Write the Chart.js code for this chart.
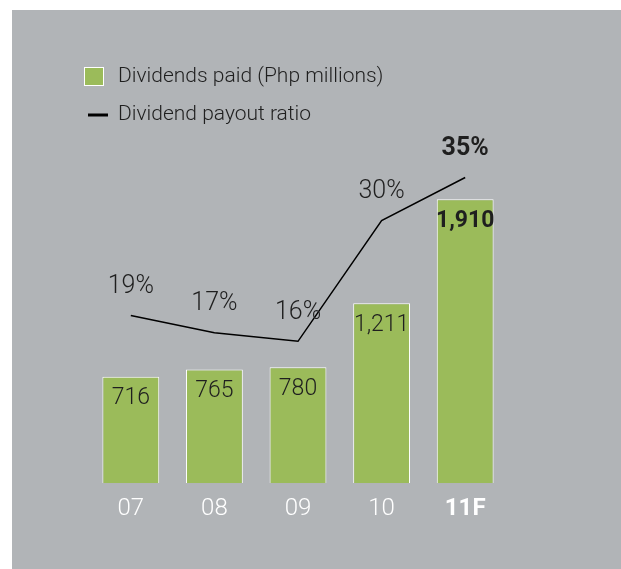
<!DOCTYPE html>
<html>
<head>
<meta charset="utf-8">
<script src="https://cdn.jsdelivr.net/npm/chart.js@4.4.0/dist/chart.umd.min.js"></script>
<style>
    html, body { margin: 0; padding: 0; background: #fff; }
    #wrap { position: relative; width: 621px; height: 569px; overflow: hidden; }
    #panel { position: absolute; left: 12px; top: 10px; right: 0; bottom: 0; background: #b1b4b7; }
    canvas { position: absolute; left: 0; top: 0; }
</style>
</head>
<body>
<div id="wrap">
    <div id="panel"></div>
    <canvas id="dividend-chart" width="621" height="569"></canvas>
</div>
<script>
const years = ['07', '08', '09', '10', '11F'];
const dividendsPaid = [716, 765, 780, 1211, 1910];
const payoutRatio = [19, 17, 16, 30, 35];
const forecastIndex = 4;

const green = '#9bbb5a';
const textColor = '#1f1f1f';
const fontFamily = 'Roboto, "Liberation Sans", sans-serif';

// value labels on bars / line points, plus the stacked legend top left
const chartLabels = {
    id: 'chartLabels',
    afterDatasetsDraw(chart) {
        const ctx = chart.ctx;
        ctx.save();
        ctx.textAlign = 'center';
        ctx.textBaseline = 'middle';
        ctx.fillStyle = textColor;

        chart.getDatasetMeta(0).data.forEach((bar, i) => {
            ctx.font = (i === forecastIndex ? 'bold ' : '300 ') + '23px ' + fontFamily;
            ctx.fillText(dividendsPaid[i].toLocaleString('en-US'), bar.x, bar.y + 22);
        });

        chart.getDatasetMeta(1).data.forEach((pt, i) => {
            ctx.font = (i === forecastIndex ? 'bold ' : '300 ') + '25px ' + fontFamily;
            ctx.fillText(payoutRatio[i] + '%', pt.x, pt.y - 29);
        });

        // legend
        const ds = chart.data.datasets;
        ctx.textAlign = 'left';
        ctx.font = '300 21px ' + fontFamily;
        ctx.fillStyle = green;
        ctx.fillRect(84, 67, 20, 19);
        ctx.strokeStyle = '#ffffff';
        ctx.lineWidth = 1;
        ctx.strokeRect(84.5, 67.5, 19, 18);
        ctx.fillStyle = textColor;
        ctx.fillText(ds[0].label, 118, 77);

        ctx.strokeStyle = '#000000';
        ctx.lineWidth = 3;
        ctx.beginPath();
        ctx.moveTo(88, 115);
        ctx.lineTo(108, 115);
        ctx.stroke();
        ctx.fillText(ds[1].label, 118, 115);

        ctx.restore();
    }
};

const ctx = document.getElementById('dividend-chart');

new Chart(ctx, {
    type: 'bar',
    data: {
        labels: years,
        datasets: [
            {
                type: 'bar',
                label: 'Dividends paid (Php millions)',
                data: dividendsPaid,
                backgroundColor: green,
                borderColor: '#ffffff',
                borderWidth: 1,
                barPercentage: 0.8,
                categoryPercentage: 0.85,
                yAxisID: 'y',
                order: 2
            },
            {
                type: 'line',
                label: 'Dividend payout ratio',
                data: payoutRatio,
                borderColor: '#000000',
                borderWidth: 1.5,
                pointRadius: 0,
                tension: 0,
                fill: false,
                yAxisID: 'y1',
                order: 1
            }
        ]
    },
    options: {
        responsive: false,
        animation: false,
        devicePixelRatio: 1,
        layout: {
            padding: { left: 89, right: 114, top: 55, bottom: 35 }
        },
        plugins: {
            legend: { display: false },
            tooltip: { enabled: false }
        },
        scales: {
            x: {
                grid: { display: false, drawTicks: false },
                border: { display: false },
                ticks: {
                    color: '#ffffff',
                    padding: 11,
                    font: (c) => ({
                        family: fontFamily,
                        size: 24,
                        weight: c.index === forecastIndex ? 'bold' : '300'
                    })
                }
            },
            y: {
                display: false,
                min: 0,
                max: 2880
            },
            y1: {
                display: false,
                min: -0.45,
                max: 49.2
            }
        }
    },
    plugins: [chartLabels]
});
</script>
</body>
</html>
